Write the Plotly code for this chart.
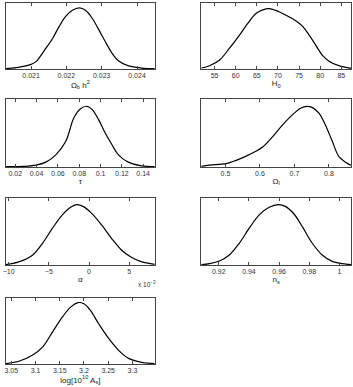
import plotly.graph_objects as go

# marginalised 1D posteriors, peak normalised to 1
omb_x = [0.02029, 0.02067, 0.02102, 0.02114, 0.02142, 0.02161, 0.02179, 0.02198, 0.02217,
         0.02237, 0.02254, 0.02273, 0.02292, 0.0231, 0.02329, 0.02348, 0.02376, 0.02413, 0.0245]
omb_p = [0.005, 0.03, 0.08, 0.12, 0.34, 0.50, 0.69, 0.86, 0.96,
         1.0, 0.96, 0.83, 0.64, 0.45, 0.26, 0.13, 0.05, 0.015, 0.005]

h0_x = [51.86, 53.8, 56.2, 58.5, 60.9, 62.8, 64.8, 66.4, 67.95, 69.5,
        71.9, 74.2, 75.8, 77.4, 78.9, 80.5, 82.1, 84.4, 87.3]
h0_p = [0.016, 0.055, 0.15, 0.34, 0.56, 0.75, 0.92, 0.98, 1.0, 0.97,
        0.89, 0.80, 0.71, 0.56, 0.40, 0.23, 0.13, 0.055, 0.01]

tau_x = [0.0113, 0.0271, 0.0395, 0.0487, 0.058, 0.0673, 0.075, 0.0812, 0.0874,
         0.092, 0.0982, 0.1044, 0.1106, 0.1168, 0.126, 0.1384, 0.1508]
tau_p = [0.005, 0.01, 0.03, 0.08, 0.2, 0.42, 0.81, 0.96, 1.0,
         0.95, 0.78, 0.56, 0.37, 0.2, 0.08, 0.02, 0.005]

oml_x = [0.43, 0.454, 0.502, 0.531, 0.56, 0.588, 0.608, 0.637, 0.665, 0.694,
         0.718, 0.736, 0.752, 0.771, 0.79, 0.81, 0.829, 0.848, 0.864]
oml_p = [0.01, 0.03, 0.055, 0.11, 0.18, 0.26, 0.33, 0.5, 0.69, 0.86,
         0.97, 1.0, 0.98, 0.89, 0.69, 0.42, 0.17, 0.08, 0.03]

# alpha in units of 1e-3
alpha_x = [-10.33, -8.65, -7.0, -5.78, -4.55, -3.32, -2.3, -1.52,
           -0.7, 0.33, 1.56, 2.79, 4.02, 5.25, 6.48, 8.16]
alpha_p = [0.005, 0.055, 0.166, 0.36, 0.61, 0.83, 0.956, 1.0,
           0.967, 0.856, 0.663, 0.442, 0.249, 0.127, 0.055, 0.011]

ns_x = [0.9084, 0.9138, 0.9204, 0.927, 0.9336, 0.9402, 0.9468, 0.9534, 0.9596,
        0.9644, 0.9699, 0.9754, 0.982, 0.9886, 0.9952, 1.0018, 1.0077]
ns_p = [0.005, 0.022, 0.066, 0.166, 0.36, 0.61, 0.83, 0.956, 1.0,
        0.967, 0.845, 0.635, 0.36, 0.166, 0.06, 0.022, 0.005]

las_x = [3.039, 3.067, 3.094, 3.115, 3.135, 3.156, 3.173, 3.188,
         3.2, 3.213, 3.23, 3.251, 3.271, 3.292, 3.319, 3.346]
las_p = [0.005, 0.049, 0.146, 0.28, 0.52, 0.77, 0.93, 1.0,
         0.98, 0.876, 0.66, 0.416, 0.227, 0.092, 0.027, 0.005]

labels = ["Ω<sub>b</sub> h<sup>2</sup>", "H<sub>0</sub>", "τ", "Ω<sub>l</sub>",
          "α", "n<sub>s</sub>", "log[10<sup>10</sup> A<sub>s</sub>]"]
tickvals = [[0.021, 0.022, 0.023, 0.024],
            [55, 60, 65, 70, 75, 80, 85],
            [0.02, 0.04, 0.06, 0.08, 0.1, 0.12, 0.14],
            [0.5, 0.6, 0.7, 0.8],
            [-10, -5, 0, 5],
            [0.92, 0.94, 0.96, 0.98, 1.0],
            [3.05, 3.1, 3.15, 3.2, 3.25, 3.3]]
ticktext = [["0.021", "0.022", "0.023", "0.024"],
            ["55", "60", "65", "70", "75", "80", "85"],
            ["0.02", "0.04", "0.06", "0.08", "0.1", "0.12", "0.14"],
            ["0.5", "0.6", "0.7", "0.8"],
            ["−10", "−5", "0", "5"],
            ["0.92", "0.94", "0.96", "0.98", "1"],
            ["3.05", "3.1", "3.15", "3.2", "3.25", "3.3"]]

series = [(omb_x, omb_p), (h0_x, h0_p), (tau_x, tau_p), (oml_x, oml_p),
          (alpha_x, alpha_p), (ns_x, ns_p), (las_x, las_p)]
ytop = [1.08, 1.093, 1.12, 1.122, 1.11, 1.11, 1.075]

W, H = 353, 387
cols = [(3, 153), (200, 351)]
rows = [(3, 69), (99, 167), (198, 265), (298, 364)]

fig = go.Figure()
layout = dict(width=W, height=H, margin=dict(l=0, r=0, t=0, b=0),
              paper_bgcolor="white", plot_bgcolor="white", showlegend=False,
              font=dict(family="Liberation Sans, Arial, sans-serif", size=7, color="#222"))

for i, (xs, ps) in enumerate(series):
    n = "" if i == 0 else str(i + 1)
    c0, c1 = cols[i % 2]
    r0, r1 = rows[i // 2]
    fig.add_trace(go.Scatter(x=xs, y=ps, mode="lines", line=dict(color="black", width=1.2, shape="spline"),
                             xaxis="x" + n, yaxis="y" + n, hoverinfo="skip"))
    layout["xaxis" + n] = dict(domain=[c0 / W, c1 / W], anchor="y" + n, range=[xs[0], xs[-1]],
                               showgrid=False, zeroline=False, showline=True, linecolor="#444",
                               linewidth=1, mirror="ticks", ticks="inside", ticklen=3, tickcolor="#444",
                               tickvals=tickvals[i], ticktext=ticktext[i], ticklabeloverflow="allow",
                               tickfont=dict(size=7, color="#333"),
                               title=dict(text=labels[i], font=dict(size=8, color="#222"), standoff=1))
    layout["yaxis" + n] = dict(domain=[1 - r1 / H, 1 - r0 / H], anchor="x" + n, range=[0, ytop[i]],
                               showgrid=False, zeroline=False, showline=True, linecolor="#444",
                               linewidth=1, mirror=True, ticks="", showticklabels=False)

fig.update_layout(**layout)
fig.add_annotation(text="x 10<sup>−3</sup>", xref="paper", yref="paper", x=156 / W, y=1 - 278 / H,
                   xanchor="right", yanchor="top", showarrow=False, font=dict(size=6.5, color="#333"))

fig.write_html("out.html", config={"displayModeBar": False},
               post_script="document.body.style.margin='0';document.body.style.overflow='hidden';")
